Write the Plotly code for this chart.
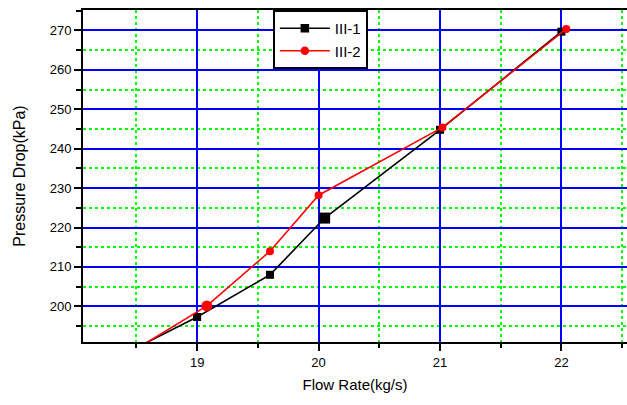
import plotly.graph_objects as go

# Data
x_iii1 = [18.5, 19.0, 19.6, 20.05, 21.0, 22.0]
y_iii1 = [189.5, 197.3, 208.0, 222.4, 244.8, 269.7]
x_iii2 = [18.5, 19.08, 19.6, 20.0, 21.02, 22.04]
y_iii2 = [189.2, 200.1, 214.0, 228.2, 245.4, 270.4]
x_ticks = [19, 20, 21, 22]
y_ticks = [200, 210, 220, 230, 240, 250, 260, 270]

FONT = "Arial, Liberation Sans, sans-serif"

fig = go.Figure()
fig.add_trace(go.Scatter(
    x=x_iii1, y=y_iii1, mode="lines+markers", name="III-1",
    line=dict(color="black", width=1.6),
    marker=dict(symbol="square", color="black", size=[8, 8, 8, 11, 8, 8],
                opacity=1, line=dict(width=0)),
))
fig.add_trace(go.Scatter(
    x=x_iii2, y=y_iii2, mode="lines+markers", name="III-2",
    line=dict(color="#ff0000", width=1.6),
    marker=dict(symbol="circle", color="#ff0000", size=[8, 11, 8, 8, 8, 8],
                opacity=1, line=dict(width=0)),
))

fig.update_layout(
    width=627, height=405,
    margin=dict(l=83, r=0, t=10, b=63, autoexpand=False),
    paper_bgcolor="white", plot_bgcolor="white",
    font=dict(family=FONT, size=13, color="black"),
    showlegend=True,
    legend=dict(
        x=0.349, y=1.0, xanchor="left", yanchor="top",
        bordercolor="black", borderwidth=2, bgcolor="white",
        font=dict(family=FONT, size=15, color="black"),
        itemwidth=50, tracegroupgap=0,
    ),
)

fig.update_xaxes(
    range=[18.06, 22.54], automargin=False,
    tickvals=x_ticks, ticktext=[str(v) for v in x_ticks],
    showline=True, linecolor="black", linewidth=2, mirror=True,
    ticks="outside", ticklen=7, tickwidth=2, tickcolor="black",
    showgrid=True, gridcolor="#0000ff", gridwidth=2,
    zeroline=False,
    tickfont=dict(family=FONT, size=13, color="black"),
    minor=dict(dtick=0.5, tick0=18.5, showgrid=True, gridcolor="#00ff00",
               griddash="dot", gridwidth=2, ticks="outside", ticklen=4,
               tickwidth=2, tickcolor="black"),
    title=dict(text="Flow Rate(kg/s)", font=dict(family=FONT, size=15, color="black"),
               standoff=11),
)
fig.update_yaxes(
    range=[190.95, 275.2], automargin=False,
    tickvals=y_ticks, ticktext=[str(v) for v in y_ticks],
    showline=True, linecolor="black", linewidth=2, mirror=False,
    ticks="outside", ticklen=7, tickwidth=2, tickcolor="black",
    showgrid=True, gridcolor="#0000ff", gridwidth=2,
    zeroline=False,
    tickfont=dict(family=FONT, size=13, color="black"),
    minor=dict(dtick=5, tick0=195, showgrid=True, gridcolor="#00ff00",
               griddash="dot", gridwidth=2, ticks="outside", ticklen=5,
               tickwidth=2, tickcolor="black"),
    title=dict(text="Pressure Drop(kPa)", font=dict(family=FONT, size=16, color="black"),
               standoff=20),
)

fig.write_html(
    "out.html",
    config={"displayModeBar": False},
    post_script="document.body.style.margin='0px';document.body.style.overflow='hidden';",
)
